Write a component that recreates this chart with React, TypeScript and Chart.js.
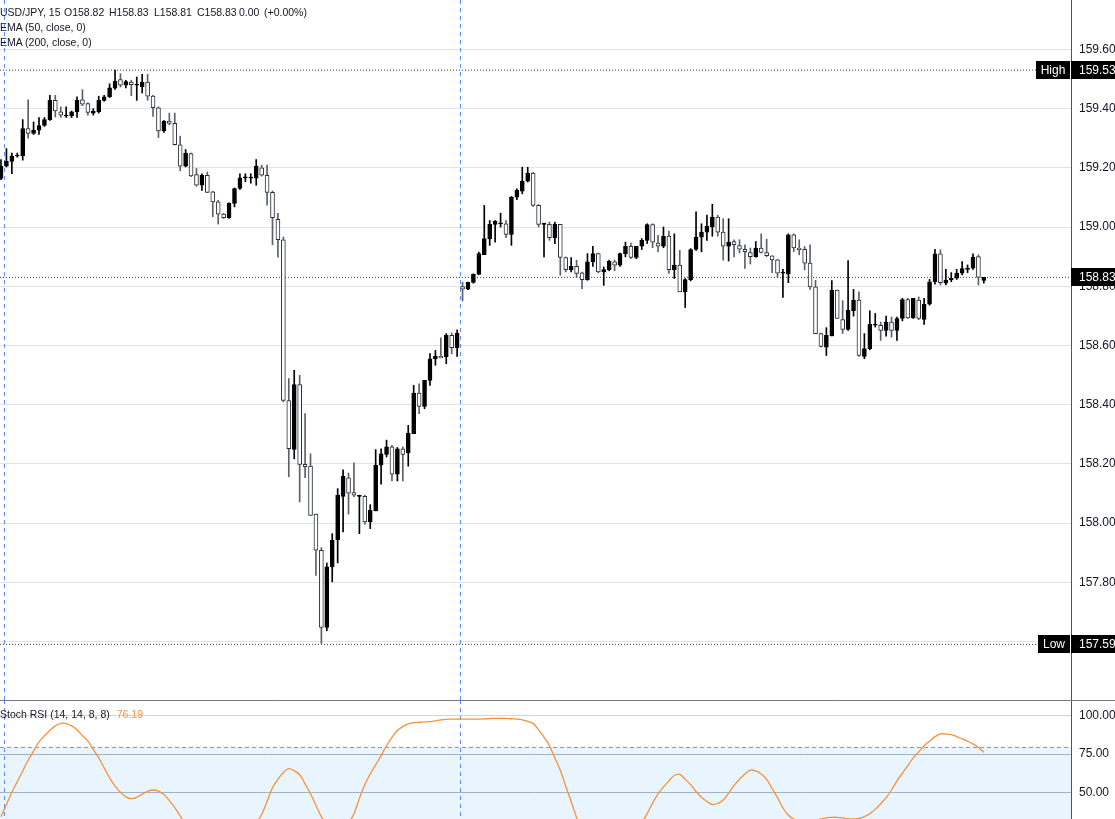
import React, { useEffect, useRef } from 'react';
import { Chart, registerables } from 'chart.js';

Chart.register(...registerables);

// ---------------- data ----------------
const symbolTitle = 'USD/JPY, 15';
const ema50Label = 'EMA (50, close, 0)';
const ema200Label = 'EMA (200, close, 0)';
const stochLabel = 'Stoch RSI (14, 14, 8, 8)';

const opens = [
  159.164, 159.206, 159.222, 159.240, 159.240, 159.333, 159.316, 159.327, 159.343, 159.363,
  159.428, 159.389, 159.375, 159.375, 159.389, 159.430, 159.417, 159.385, 159.390, 159.428,
  159.440, 159.469, 159.498, 159.479, 159.490, 159.479, 159.473, 159.490, 159.442, 159.403,
  159.325, 159.358, 159.350, 159.278, 159.206, 159.248, 159.177, 159.141, 159.175, 159.119,
  159.085, 159.044, 159.032, 159.080, 159.130, 159.166, 159.165, 159.165, 159.200, 159.175,
  159.117, 159.026, 158.957, 158.414, 158.249, 158.468, 158.198, 158.192, 158.030, 157.908,
  157.647, 157.852, 157.944, 158.090, 158.153, 158.103, 158.090, 158.090, 158.004, 158.041,
  158.195, 158.232, 158.257, 158.165, 158.251, 158.237, 158.302, 158.439, 158.394, 158.482,
  158.554, 158.563, 158.561, 158.634, 158.592, 158.799, 158.790, 158.813, 158.840, 158.907,
  158.960, 159.009, 159.011, 159.011, 158.975, 159.101, 159.121, 159.155, 159.182, 159.073,
  159.009, 159.009, 158.964, 159.009, 158.897, 158.856, 158.867, 158.845, 158.822, 158.882,
  158.910, 158.848, 158.856, 158.882, 158.871, 158.910, 158.935, 158.897, 158.935, 158.955,
  159.008, 158.946, 158.935, 158.969, 158.856, 158.871, 158.781, 158.822, 158.924, 158.966,
  158.983, 159.000, 159.034, 158.983, 158.935, 158.951, 158.937, 158.925, 158.914, 158.900,
  158.929, 158.914, 158.903, 158.889, 158.844, 158.841, 158.974, 158.929, 158.925, 158.878,
  158.798, 158.640, 158.594, 158.632, 158.787, 158.687, 158.654, 158.717, 158.753, 158.563,
  158.589, 158.668, 158.668, 158.651, 158.679, 158.651, 158.691, 158.755, 158.693, 158.753,
  158.688, 158.739, 158.815, 158.909, 158.810, 158.821, 158.827, 158.844, 158.857, 158.861,
  158.900, 158.820,
];
const highs = [
  159.228, 159.265, 159.250, 159.250, 159.363, 159.430, 159.355, 159.370, 159.370, 159.445,
  159.445, 159.406, 159.406, 159.392, 159.440, 159.464, 159.420, 159.400, 159.442, 159.445,
  159.484, 159.530, 159.518, 159.496, 159.496, 159.507, 159.516, 159.516, 159.445, 159.406,
  159.360, 159.385, 159.385, 159.307, 159.262, 159.250, 159.198, 159.180, 159.186, 159.121,
  159.090, 159.046, 159.082, 159.132, 159.180, 159.180, 159.180, 159.228, 159.209, 159.209,
  159.122, 159.046, 158.966, 158.488, 158.516, 158.499, 158.370, 158.234, 158.030, 157.917,
  157.865, 157.964, 158.116, 158.180, 158.169, 158.203, 158.094, 158.094, 158.062, 158.248,
  158.251, 158.280, 158.262, 158.255, 158.257, 158.330, 158.465, 158.470, 158.482, 158.572,
  158.583, 158.626, 158.640, 158.642, 158.653, 158.814, 158.814, 158.842, 158.915, 159.073,
  159.022, 159.022, 159.047, 159.022, 159.103, 159.129, 159.202, 159.202, 159.185, 159.076,
  159.013, 159.017, 159.017, 159.009, 158.899, 158.897, 158.888, 158.848, 158.910, 158.935,
  158.912, 158.865, 158.888, 158.888, 158.912, 158.949, 158.946, 158.935, 158.961, 159.011,
  159.011, 158.972, 159.000, 158.986, 158.977, 158.921, 158.826, 158.927, 159.051, 159.011,
  159.040, 159.077, 159.040, 159.028, 159.028, 158.957, 158.957, 158.940, 158.929, 158.951,
  158.977, 158.959, 158.903, 158.891, 158.857, 158.977, 158.977, 158.957, 158.934, 158.940,
  158.820, 158.642, 158.660, 158.819, 158.787, 158.751, 158.887, 158.789, 158.781, 158.640,
  158.717, 158.708, 158.679, 158.699, 158.696, 158.696, 158.759, 158.759, 158.759, 158.764,
  158.759, 158.823, 158.925, 158.923, 158.857, 158.846, 158.857, 158.883, 158.872, 158.909,
  158.906, 158.830,
];
const lows = [
  159.160, 159.203, 159.180, 159.236, 159.226, 159.300, 159.313, 159.313, 159.340, 159.360,
  159.372, 159.370, 159.370, 159.370, 159.370, 159.410, 159.378, 159.378, 159.385, 159.425,
  159.437, 159.465, 159.473, 159.470, 159.444, 159.428, 159.453, 159.428, 159.374, 159.302,
  159.320, 159.345, 159.277, 159.190, 159.203, 159.170, 159.138, 159.124, 159.116, 159.035,
  159.010, 159.029, 159.029, 159.068, 159.127, 159.153, 159.148, 159.141, 159.172, 159.074,
  158.940, 158.898, 158.409, 158.156, 158.217, 158.071, 158.153, 158.026, 157.823, 157.593,
  157.636, 157.801, 157.865, 157.970, 158.030, 158.088, 157.964, 157.996, 157.981, 158.041,
  158.131, 158.223, 158.142, 158.142, 158.142, 158.192, 158.302, 158.369, 158.386, 158.465,
  158.533, 158.558, 158.538, 158.572, 158.563, 158.750, 158.788, 158.810, 158.840, 158.907,
  158.938, 158.949, 159.000, 158.964, 158.938, 159.092, 159.112, 159.152, 159.070, 159.000,
  158.899, 158.955, 158.944, 158.837, 158.848, 158.848, 158.829, 158.792, 158.820, 158.867,
  158.845, 158.803, 158.852, 158.852, 158.867, 158.899, 158.893, 158.893, 158.924, 158.944,
  158.930, 158.916, 158.930, 158.843, 158.826, 158.781, 158.728, 158.818, 158.921, 158.916,
  158.955, 158.969, 158.969, 158.888, 158.885, 158.899, 158.912, 158.860, 158.875, 158.898,
  158.912, 158.900, 158.846, 158.830, 158.762, 158.812, 158.917, 158.906, 158.855, 158.789,
  158.640, 158.594, 158.566, 158.632, 158.691, 158.640, 158.651, 158.699, 158.563, 158.555,
  158.585, 158.662, 158.617, 158.631, 158.628, 158.617, 158.683, 158.691, 158.691, 158.687,
  158.671, 158.736, 158.807, 158.804, 158.804, 158.815, 158.823, 158.838, 158.846, 158.857,
  158.804, 158.810,
];
const closes = [
  159.206, 159.222, 159.240, 159.242, 159.333, 159.316, 159.327, 159.343, 159.363, 159.428,
  159.392, 159.378, 159.375, 159.389, 159.428, 159.415, 159.387, 159.392, 159.428, 159.440,
  159.470, 159.493, 159.479, 159.491, 159.481, 159.479, 159.490, 159.442, 159.403, 159.325,
  159.358, 159.350, 159.278, 159.206, 159.250, 159.173, 159.141, 159.175, 159.117, 159.085,
  159.043, 159.032, 159.080, 159.130, 159.166, 159.166, 159.165, 159.206, 159.175, 159.117,
  159.032, 158.957, 158.414, 158.251, 158.468, 158.198, 158.190, 158.026, 157.908, 157.647,
  157.852, 157.942, 158.094, 158.158, 158.101, 158.094, 158.090, 158.004, 158.043, 158.195,
  158.234, 158.257, 158.165, 158.251, 158.232, 158.304, 158.439, 158.394, 158.482, 158.555,
  158.563, 158.558, 158.634, 158.592, 158.642, 158.790, 158.813, 158.840, 158.910, 158.961,
  159.009, 159.020, 159.011, 158.975, 159.101, 159.124, 159.155, 159.182, 159.073, 159.009,
  159.009, 158.964, 159.009, 158.897, 158.856, 158.867, 158.843, 158.822, 158.882, 158.910,
  158.848, 158.856, 158.885, 158.871, 158.910, 158.935, 158.897, 158.935, 158.955, 159.008,
  158.949, 158.935, 158.969, 158.856, 158.871, 158.781, 158.822, 158.924, 158.966, 158.983,
  159.002, 159.034, 158.983, 158.935, 158.949, 158.940, 158.925, 158.917, 158.900, 158.929,
  158.914, 158.903, 158.889, 158.844, 158.844, 158.974, 158.929, 158.923, 158.878, 158.798,
  158.640, 158.597, 158.634, 158.787, 158.691, 158.654, 158.719, 158.753, 158.566, 158.589,
  158.671, 158.671, 158.651, 158.679, 158.651, 158.691, 158.755, 158.693, 158.759, 158.691,
  158.739, 158.815, 158.909, 158.812, 158.821, 158.827, 158.844, 158.860, 158.861, 158.898,
  158.830, 158.830,
];

const stochK = [
  34, 42, 50, 57, 64, 71, 77, 83, 87, 90.5,
  93.5, 95.2, 95, 93.5, 91, 87, 83.5, 78, 72.5, 66,
  59.5, 54, 50, 47, 45.8, 46.8, 48.8, 50.6, 51.5, 50.8,
  48.5, 44.5, 40, 34.5, 29, 25, 21, 18.5, 16, 14,
  12.5, 12, 13, 15, 18, 22, 26, 30, 35.5, 44,
  53, 58.5, 63, 65.5, 64, 61.5, 55.5, 49, 41.5, 34,
  29, 26, 25, 27, 30, 36, 46, 55, 62, 68,
  74, 80.5, 86, 90.5, 93, 94.8, 95.6, 95.9, 96.1, 96.3,
  96.8, 97.4, 97.8, 97.9, 98, 98, 98, 98, 98, 98.1,
  98.3, 98.4, 98.5, 98.4, 98.2, 98, 97.5, 96.5, 95, 91,
  86, 80.5, 72.5, 64.5, 54, 44, 33.5, 26, 21, 18.5,
  16, 13.5, 12, 12.5, 14, 16.5, 19, 24, 30, 36,
  43, 49, 53.5, 57.5, 61, 61.8, 58.5, 55, 50.5, 46.8,
  44, 42, 42.8, 45, 49.5, 54.5, 58.5, 62, 64.5, 64,
  62, 58.5, 52.5, 46.5, 39.7, 35, 32.5, 31.5, 31, 31,
  31.5, 32.5, 33.3, 33.6, 33.6, 33.2, 32.7, 32.6, 32.9, 34,
  36, 38.8, 42.5, 46.5, 51.5, 57.5, 62.5, 67.5, 72.5, 76.5,
  80.5, 83.5, 86.5, 88.2, 88.2, 87.8, 86.5, 85, 83.5, 81.7,
  79.3, 76.19,
];

const priceTicks = [157.6, 157.8, 158.0, 158.2, 158.4, 158.6, 158.8, 159.0, 159.2, 159.4, 159.6];
const stochTicks = [50, 75, 100];
const sessionBreaks = [0.5, 84.5];
const highLevel = 159.53;
const lowLevel = 157.59;
const lastPrice = 158.83;
const stochUpper = 80;
const stochLower = 20;

// ---------------- layout constants ----------------
const W = 1115;
const MAIN_H = 700;
const STOCH_H = 119;
const AXIS_W = 44;
const X_MIN = -0.184;
const X_MAX = 197.05;
const FONT = "'Liberation Sans', Arial, sans-serif";
const TEXT = '#131722';
const STOCH_COLOR = '#f7923a';

const idx = opens.map((_, i) => i);
const isUp = idx.map((i) => closes[i] >= opens[i]);

const fixAxis = (scale: any) => {
  scale.width = AXIS_W;
  scale.paddingTop = 0;
  scale.paddingBottom = 0;
  scale.paddingLeft = 0;
  scale.paddingRight = 0;
};

const separatorPlugin = {
  id: 'separators',
  beforeDatasetsDraw(chart: any) {
    const { ctx, scales } = chart;
    ctx.save();
    ctx.strokeStyle = 'rgba(41, 98, 255, 0.75)';
    ctx.lineWidth = 1;
    ctx.setLineDash([4, 4]);
    sessionBreaks.forEach((b) => {
      const x = Math.round(scales.x.getPixelForValue(b)) + 0.5;
      ctx.beginPath();
      ctx.moveTo(x, 0);
      ctx.lineTo(x, chart.height);
      ctx.stroke();
    });
    ctx.restore();
  },
};

const levelLabelPlugin = {
  id: 'levelLabels',
  afterDraw(chart: any) {
    const { ctx, chartArea, scales } = chart;
    const ys = scales.y;
    ctx.save();
    ctx.font = `12px ${FONT}`;
    ctx.textBaseline = 'middle';
    const box = (text: string, x: number, w: number, value: number, align: 'left' | 'center') => {
      const yc = Math.round(ys.getPixelForValue(value));
      ctx.fillStyle = '#000';
      ctx.fillRect(x, yc - 9, w, 18);
      ctx.fillStyle = '#fff';
      ctx.textAlign = align;
      ctx.fillText(text, align === 'center' ? x + w / 2 : x + 8, yc + 1);
    };
    const r = chartArea.right;
    box('High', r - 35, 34, highLevel, 'center');
    box(highLevel.toFixed(2), r, AXIS_W, highLevel, 'left');
    box('Low', r - 33, 32, lowLevel, 'center');
    box(lowLevel.toFixed(2), r, AXIS_W, lowLevel, 'left');
    box(lastPrice.toFixed(2), r, AXIS_W, lastPrice, 'left');
    ctx.restore();
  },
};

const stochBandPlugin = {
  id: 'stochBand',
  beforeDatasetsDraw(chart: any) {
    const { ctx, chartArea, scales } = chart;
    const ys = scales.y;
    const yU = ys.getPixelForValue(stochUpper);
    const yL = ys.getPixelForValue(stochLower);
    ctx.save();
    ctx.beginPath();
    ctx.rect(chartArea.left, chartArea.top, chartArea.right - chartArea.left, chartArea.bottom - chartArea.top);
    ctx.clip();
    ctx.fillStyle = 'rgba(33, 150, 243, 0.1)';
    ctx.fillRect(chartArea.left, yU, chartArea.right - chartArea.left, yL - yU);
    ctx.strokeStyle = '#9598a1';
    ctx.setLineDash([4, 3]);
    ctx.lineWidth = 1;
    [yU, yL].forEach((y) => {
      const yy = Math.round(y) + 0.5;
      ctx.beginPath();
      ctx.moveTo(chartArea.left, yy);
      ctx.lineTo(chartArea.right, yy);
      ctx.stroke();
    });
    ctx.restore();
  },
  afterDraw(chart: any) {
    const { ctx } = chart;
    ctx.save();
    ctx.strokeStyle = '#787b86';
    ctx.lineWidth = 1;
    ctx.beginPath();
    ctx.moveTo(0, 0.5);
    ctx.lineTo(chart.width, 0.5);
    ctx.stroke();
    ctx.restore();
  },
};

export default function App() {
  const mainRef = useRef<HTMLCanvasElement>(null);
  const stochRef = useRef<HTMLCanvasElement>(null);

  useEffect(() => {
    Chart.defaults.font.family = FONT;
    const xScale = { type: 'linear' as const, min: X_MIN, max: X_MAX, display: false, offset: false };

    const levelLine = (value: number) => ({
      type: 'line',
      data: [
        { x: X_MIN, y: value },
        { x: X_MAX, y: value },
      ],
      borderColor: '#3a3d46',
      borderWidth: 1,
      borderDash: [1, 2],
      pointRadius: 0,
      order: 2,
    });

    const main = new Chart(mainRef.current as HTMLCanvasElement, {
      type: 'bar',
      data: {
        datasets: [
          {
            type: 'bar',
            data: idx.map((i) => ({ x: i, y: [opens[i], closes[i]] })) as any,
            backgroundColor: isUp.map((u) => (u ? '#000000' : '#ffffff')),
            borderColor: isUp.map((u) => (u ? '#000000' : '#2a2e39')),
            borderWidth: 1,
            borderSkipped: false,
            barThickness: 4,
            minBarLength: 1,
            grouped: false,
            order: 0,
          } as any,
          {
            type: 'bar',
            data: idx.map((i) => ({ x: i, y: [lows[i], highs[i]] })) as any,
            backgroundColor: isUp.map((u) => (u ? '#000000' : '#5d606b')),
            borderWidth: 0,
            barThickness: 1,
            minBarLength: 1,
            grouped: false,
            order: 1,
          } as any,
          levelLine(highLevel) as any,
          levelLine(lowLevel) as any,
          levelLine(lastPrice) as any,
        ],
      },
      options: {
        responsive: false,
        animation: false,
        events: [],
        layout: { padding: 0 },
        plugins: { legend: { display: false }, tooltip: { enabled: false } },
        scales: {
          x: xScale,
          y: {
            type: 'linear',
            position: 'right',
            min: 157.402,
            max: 159.767,
            afterFit: fixAxis,
            afterBuildTicks: (scale: any) => {
              scale.ticks = priceTicks.map((v) => ({ value: v }));
            },
            ticks: {
              padding: 8,
              color: TEXT,
              font: { size: 12, family: FONT },
              callback: (v: any) => Number(v).toFixed(2),
            },
            grid: { color: '#e0e3eb', drawTicks: false },
            border: { display: true, color: '#50535e' },
          },
        },
      } as any,
      plugins: [separatorPlugin, levelLabelPlugin],
    });

    const stoch = new Chart(stochRef.current as HTMLCanvasElement, {
      type: 'line',
      data: {
        datasets: [
          {
            data: stochK.map((v, i) => ({ x: i, y: v })),
            borderColor: STOCH_COLOR,
            borderWidth: 1.3,
            pointRadius: 0,
            tension: 0.4,
          },
        ],
      },
      options: {
        responsive: false,
        animation: false,
        events: [],
        layout: { padding: 0 },
        plugins: { legend: { display: false }, tooltip: { enabled: false } },
        scales: {
          x: xScale,
          y: {
            type: 'linear',
            position: 'right',
            min: 32.5,
            max: 110.47,
            afterFit: fixAxis,
            afterBuildTicks: (scale: any) => {
              scale.ticks = stochTicks.map((v) => ({ value: v }));
            },
            ticks: {
              padding: 8,
              color: TEXT,
              font: { size: 12, family: FONT },
              callback: (v: any) => Number(v).toFixed(2),
            },
            grid: {
              drawTicks: false,
              color: (c: any) => (c.tick && c.tick.value === 100 ? '#d1d4dc' : '#b2b5be'),
            },
            border: { display: true, color: '#50535e' },
          },
        },
      } as any,
      plugins: [separatorPlugin, stochBandPlugin],
    });

    return () => {
      main.destroy();
      stoch.destroy();
    };
  }, []);

  const last = opens.length - 1;
  const change = closes[last] - closes[last - 1];
  const pct = (change / closes[last - 1]) * 100;

  const textStyle: React.CSSProperties = {
    position: 'absolute',
    font: `10.5px ${FONT}`,
    color: TEXT,
    whiteSpace: 'pre',
    lineHeight: '15px',
  };

  const legendItems: [string, number][] = [
    [symbolTitle, 0],
    [`O${opens[last].toFixed(2)}`, 64],
    [`H${highs[last].toFixed(2)}`, 109],
    [`L${lows[last].toFixed(2)}`, 154],
    [`C${closes[last].toFixed(2)}`, 197],
    [change.toFixed(2), 239],
    [`(${pct >= 0 ? '+' : ''}${pct.toFixed(2)}%)`, 264],
  ];

  return (
    <div
      style={{
        position: 'fixed',
        left: 0,
        top: 0,
        width: W,
        height: MAIN_H + STOCH_H,
        background: '#ffffff',
        overflow: 'hidden',
      }}
    >
      <canvas ref={mainRef} width={W} height={MAIN_H} style={{ position: 'absolute', left: 0, top: 0 }} />
      <canvas ref={stochRef} width={W} height={STOCH_H} style={{ position: 'absolute', left: 0, top: MAIN_H }} />
      {legendItems.map(([t, x]) => (
        <div key={t} style={{ ...textStyle, top: 5, left: x }}>
          {t}
        </div>
      ))}
      <div style={{ ...textStyle, top: 20, left: 0 }}>{ema50Label}</div>
      <div style={{ ...textStyle, top: 35, left: 0 }}>{ema200Label}</div>
      <div style={{ ...textStyle, top: MAIN_H + 7, left: 0 }}>
        {stochLabel}
        <span style={{ color: STOCH_COLOR, marginLeft: 7 }}>{stochK[last].toFixed(2)}</span>
      </div>
    </div>
  );
}
